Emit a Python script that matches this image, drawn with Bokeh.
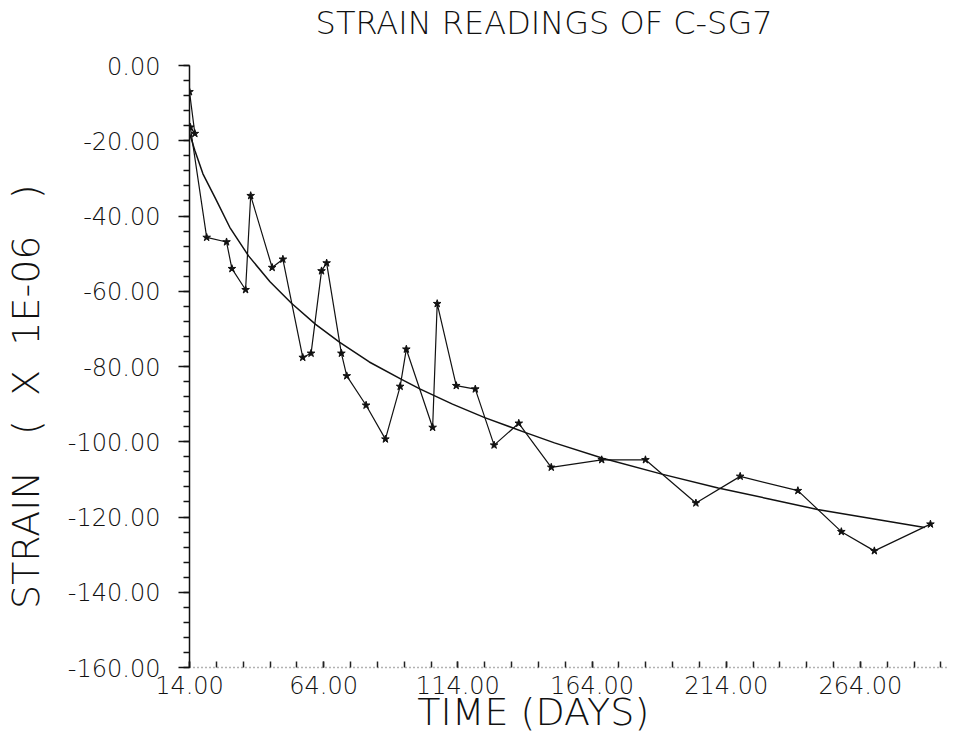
import numpy as np
from bokeh.plotting import figure
from bokeh.models import Range1d, FixedTicker, Title
from bokeh.embed import file_html
from bokeh.resources import INLINE

# ---- data ----
days = [14, 16, 14.3, 20.4, 27.8, 29.8, 34.9, 36.8, 44.8, 48.8,
        56.2, 59.3, 63.2, 65.1, 70.6, 72.6, 79.8, 87.0, 92.5, 94.8,
        104.6, 106.3, 113.4, 120.5, 127.5, 136.7, 148.8, 167.6, 183.9, 202.7,
        219.2, 240.7, 256.9, 269.2, 290.1]
strain = [-7.0, -18.1, -16.4, -45.7, -46.9, -54.0, -59.6, -34.6, -53.7, -51.5,
          -77.6, -76.5, -54.6, -52.5, -76.5, -82.5, -90.3, -99.3, -85.3, -75.4,
          -96.2, -63.3, -85.1, -86.0, -100.9, -95.1, -106.8, -104.8, -104.8, -116.3,
          -109.2, -113.0, -123.9, -129.0, -121.9]

fit_days = [14, 16, 19, 23.8, 29, 36, 44, 52, 61, 70, 81, 93, 100, 112, 124,
            139, 150, 168, 190, 211, 230, 248, 268, 288]
fit_strain = [-18.0, -22.6, -28.8, -35.5, -43.0, -50.6, -57.5, -63.2, -68.8, -73.6,
              -78.8, -83.4, -86.0, -90.0, -93.6, -97.5, -100.3, -104.4, -108.6,
              -112.3, -115.2, -118.0, -120.4, -122.8]

x_ticks = [14, 64, 114, 164, 214, 264]
x_tick_labels = ["14.00", "64.00", "114.00", "164.00", "214.00", "264.00"]
x_minor = list(range(14, 298, 10))
y_ticks = [0, -20, -40, -60, -80, -100, -120, -140, -160]
y_tick_labels = ["0.00", "-20.00", "-40.00", "-60.00", "-80.00", "-100.00",
                 "-120.00", "-140.00", "-160.00"]
y_minor = list(range(0, -161, -4))

NB = "\u00a0"
title_text = "STRAIN READINGS OF C-SG7"
x_label = "TIME  (DAYS)"
y_label = "STRAIN" + NB * 3 + "(" + NB * 2 + "X" + NB * 2 + "1E-06" + NB * 3 + ")"

FONT = "DejaVu Sans Light"

p = figure(width=951, height=741, output_backend="svg", toolbar_location=None,
           x_range=Range1d(14, 297.2), y_range=Range1d(-160, 0),
           min_border_left=182, min_border_right=2, min_border_top=65,
           min_border_bottom=74, title=None)
p.margin = (0, 0, -8, 0)

p.outline_line_color = None
p.grid.grid_line_color = None
p.background_fill_color = "white"
p.border_fill_color = "white"

# empty spacer between frame and title, then the title itself
p.add_layout(Title(text=NB, text_font=FONT, text_font_size="10px",
                   standoff=11, text_color="white"), "above")
p.add_layout(Title(text=title_text + NB * 5, text_font=FONT,
                   text_font_size="32px", text_font_style="normal",
                   text_color="#111111", align="center", standoff=0), "above")

# data series
p.line(days, strain, line_color="#111111", line_width=1.2)
p.scatter(days, strain, marker="star", size=8, fill_color="#111111",
          line_color="#111111")
# fitted curve
p.line(fit_days, fit_strain, line_color="#111111", line_width=1.5)

# x axis
xa = p.xaxis[0]
xa.ticker = FixedTicker(ticks=x_ticks, minor_ticks=x_minor)
xa.major_label_overrides = dict(zip(x_ticks, x_tick_labels))
xa.axis_line_color = "#666666"
xa.axis_line_dash = "1 3"
xa.axis_line_width = 1.5
xa.major_tick_in = 6
xa.major_tick_out = 0
xa.minor_tick_in = 6
xa.minor_tick_out = 0
xa.major_tick_line_color = "#222222"
xa.minor_tick_line_color = "#222222"
xa.major_tick_line_width = 1.5
xa.minor_tick_line_width = 1.5
xa.major_label_text_font = FONT
xa.major_label_text_font_size = "24px"
xa.major_label_text_color = "#111111"
xa.major_label_standoff = 8
xa.axis_label = x_label + NB * 5
xa.axis_label_text_font = FONT
xa.axis_label_text_font_size = "38px"
xa.axis_label_text_font_style = "normal"
xa.axis_label_text_color = "#111111"
xa.axis_label_standoff = -7

# y axis
ya = p.yaxis[0]
ya.ticker = FixedTicker(ticks=y_ticks, minor_ticks=y_minor)
ya.major_label_overrides = dict(zip(y_ticks, y_tick_labels))
ya.axis_line_color = "#111111"
ya.axis_line_width = 1.5
ya.major_tick_in = 0
ya.major_tick_out = 11
ya.minor_tick_in = 0
ya.minor_tick_out = 6
ya.major_tick_line_color = "#111111"
ya.minor_tick_line_color = "#111111"
ya.major_tick_line_width = 1.5
ya.minor_tick_line_width = 1.5
ya.major_label_text_font = FONT
ya.major_label_text_font_size = "24px"
ya.major_label_text_color = "#111111"
ya.major_label_standoff = 18
ya.axis_label = y_label + NB * 5
ya.axis_label_text_font = FONT
ya.axis_label_text_font_size = "38px"
ya.axis_label_text_font_style = "normal"
ya.axis_label_text_color = "#111111"
ya.axis_label_standoff = 17

open("out.html", "w").write(file_html(p, INLINE))
